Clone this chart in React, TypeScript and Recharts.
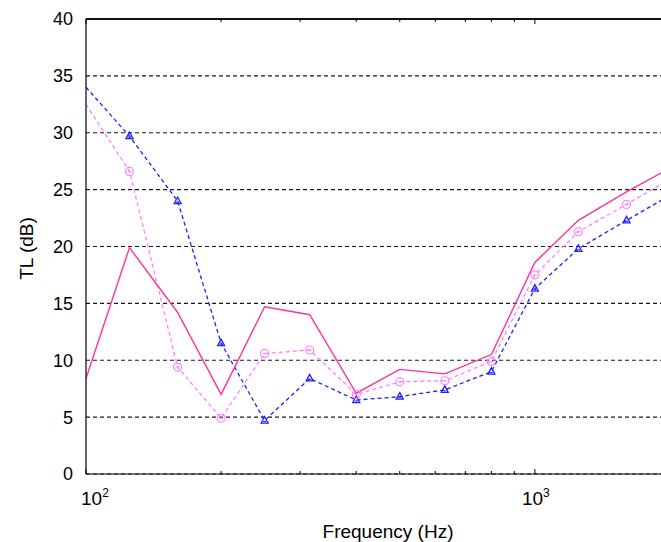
import React from 'react';
import { LineChart, Line, XAxis, YAxis, CartesianGrid, ReferenceLine, Label } from 'recharts';

const freqs = [100, 125, 160, 200, 250, 315, 400, 500, 630, 800, 1000, 1250, 1600, 2000];
const tlSolid = [8.4, 19.9, 14.2, 7.0, 14.7, 14.0, 7.1, 9.2, 8.8, 10.5, 18.6, 22.3, 24.8, 26.9];
const tlCircle = [32.5, 26.6, 9.4, 4.9, 10.6, 10.9, 7.0, 8.1, 8.2, 9.9, 17.5, 21.3, 23.7, 25.9];
const tlTriangle = [34.0, 29.7, 24.0, 11.5, 4.7, 8.4, 6.5, 6.8, 7.4, 9.0, 16.3, 19.8, 22.3, 24.5];

const yTicks = [0, 5, 10, 15, 20, 25, 30, 35, 40];
const xTicks = [100, 200, 300, 400, 500, 600, 700, 800, 900, 1000, 2000];
const xLabels: Record<number, string> = { 100: '2', 1000: '3' };

const data = freqs.map((f, i) => ({
  f,
  solid: tlSolid[i],
  circle: tlCircle[i],
  triangle: tlTriangle[i],
}));

const FONT = '"Liberation Sans", Arial, Helvetica, sans-serif';
const PLOT_H = 455;

const XTick = (props: any) => {
  const { x, y, payload } = props;
  const v = payload.value;
  const major = v === 100 || v === 1000;
  const len = major ? 5 : 3;
  const exp = xLabels[v];
  return (
    <g>
      <line x1={x} y1={y} x2={x} y2={y - len} stroke="#000" strokeWidth={1} />
      <line x1={x} y1={y - PLOT_H} x2={x} y2={y - PLOT_H + len} stroke="#000" strokeWidth={1} />
      {exp && (
        <text x={v === 100 ? x - 5 : x - 13} y={y + 31} fontSize={19} fontFamily={FONT} fill="#000">
          10
          <tspan dy={-8} fontSize={12}>{exp}</tspan>
        </text>
      )}
    </g>
  );
};

const circleDot = (props: any) => {
  const { cx, cy, index } = props;
  if (index === 0) return <g key={`c-${index}`} />;
  return (
    <g key={`c-${index}`}>
      <circle cx={cx} cy={cy} r={4} fill="none" stroke="#ff80ff" strokeWidth={1.2} />
      <line x1={cx - 2} y1={cy} x2={cx + 2} y2={cy} stroke="#ff80ff" strokeWidth={1} />
    </g>
  );
};

const triangleDot = (props: any) => {
  const { cx, cy, index } = props;
  if (index === 0) return <g key={`t-${index}`} />;
  return (
    <g key={`t-${index}`}>
      <path
        d={`M${cx},${cy - 4} L${cx + 3.5},${cy + 2.5} L${cx - 3.5},${cy + 2.5} Z`}
        fill="none"
        stroke="#2020ff"
        strokeWidth={1.3}
      />
      <line x1={cx - 1.5} y1={cy + 1} x2={cx + 1.5} y2={cy + 1} stroke="#2020ff" strokeWidth={1} />
    </g>
  );
};

export default function App() {
  return (
    <div
      style={{
        position: 'absolute',
        left: 0,
        top: 0,
        width: 661,
        height: 542,
        overflow: 'hidden',
        background: '#fff',
      }}
    >
      <div style={{ position: 'absolute', left: 8, top: 8 }}>
        <LineChart width={670} height={534} data={data} margin={{ top: 11, right: 8, bottom: 0, left: 0 }}>
          <CartesianGrid vertical={false} stroke="#1a1a1a" strokeWidth={1.2} strokeDasharray="4 3" />
          <XAxis
            dataKey="f"
            type="number"
            scale="log"
            domain={[100, 2000]}
            allowDataOverflow
            ticks={xTicks}
            interval={0}
            height={68}
            tickSize={0}
            tickMargin={0}
            tickLine={false}
            tick={<XTick />}
            axisLine={{ stroke: '#000', strokeWidth: 1.2 }}
          >
            <Label
              content={(p: any) => (
                <text
                  x={p.viewBox.x + p.viewBox.width / 2 + 10}
                  y={p.viewBox.y + 64}
                  textAnchor="middle"
                  fontSize={19}
                  fontFamily={FONT}
                  fill="#000"
                >
                  Frequency (Hz)
                </text>
              )}
            />
          </XAxis>
          <YAxis
            type="number"
            domain={[0, 40]}
            ticks={yTicks}
            interval={0}
            width={78}
            tickSize={0}
            tickMargin={13}
            tickLine={false}
            tick={{ fontSize: 18, fill: '#000', fontFamily: FONT }}
            axisLine={{ stroke: '#000', strokeWidth: 1.2 }}
          >
            <Label
              content={(p: any) => {
                const cy = p.viewBox.y + p.viewBox.height / 2 + 2;
                return (
                  <text
                    x={25}
                    y={cy}
                    transform={`rotate(-90, 25, ${cy})`}
                    textAnchor="middle"
                    fontSize={19}
                    fontFamily={FONT}
                    fill="#000"
                  >
                    TL (dB)
                  </text>
                );
              }}
            />
          </YAxis>
          <ReferenceLine y={40} stroke="#111" strokeWidth={1.8} />
          <Line
            type="linear"
            dataKey="triangle"
            stroke="#2020ff"
            strokeWidth={1.3}
            strokeDasharray="4 3"
            dot={triangleDot}
            activeDot={false}
            isAnimationActive={false}
          />
          <Line
            type="linear"
            dataKey="circle"
            stroke="#ff80ff"
            strokeWidth={1.3}
            strokeDasharray="4 3"
            dot={circleDot}
            activeDot={false}
            isAnimationActive={false}
          />
          <Line
            type="linear"
            dataKey="solid"
            stroke="#ff3399"
            strokeWidth={1.4}
            dot={false}
            activeDot={false}
            isAnimationActive={false}
          />
        </LineChart>
      </div>
    </div>
  );
}
